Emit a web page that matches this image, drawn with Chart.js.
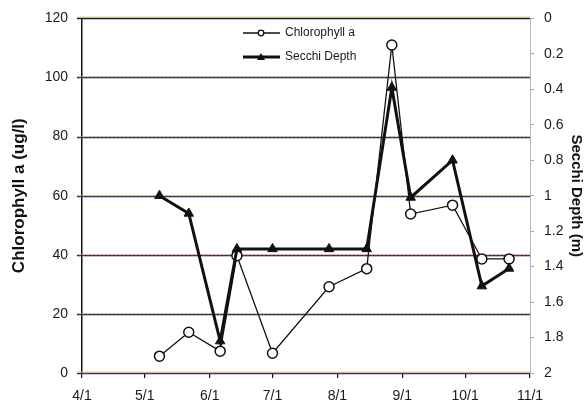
<!DOCTYPE html>
<html><head><meta charset="utf-8">
<script src="https://cdn.jsdelivr.net/npm/chart.js@4"></script>
<style>html,body{margin:0;padding:0;background:#fff}#wrap{width:585px;height:401px}</style>
</head><body><div id="wrap"><canvas id="c" width="585" height="401"></canvas></div>
<script>
// ---- data ----
const sampleDates = ['5/8','5/22','6/6','6/14','7/1','7/28','8/15','8/27','9/5','9/25','10/9','10/22'];
const chlorophyll = [5.7, 13.8, 7.4, 39.7, 6.7, 29.2, 35.3, 111, 53.8, 56.8, 38.6, 38.6];
const secchiDepth = [1.0, 1.10, 1.82, 1.30, 1.30, 1.30, 1.30, 0.39, 1.01, 0.80, 1.51, 1.41];
const monthTicks = ['4/1','5/1','6/1','7/1','8/1','9/1','10/1','11/1'];
const chlTicks = [0, 20, 40, 60, 80, 100, 120];
const secchiTicks = [0, 0.2, 0.4, 0.6, 0.8, 1, 1.2, 1.4, 1.6, 1.8, 2];
const seriesNames = ['Chlorophyll a', 'Secchi Depth'];
const axisTitles = ['Chlorophyll a (ug/l)', 'Secchi Depth (m)'];

function dayOffset(md){
  const [m,d] = md.split('/').map(Number);
  return Math.round((new Date(2000,m-1,d) - new Date(2000,3,1)) / 864e5);
}
const FONT = "'Liberation Sans', Arial, sans-serif";

const gridPlugin = {
  id: 'scanGrid',
  beforeDatasetsDraw(chart){
    const {ctx, chartArea:a, scales:{y}} = chart;
    ctx.save();
    const line = (py, x0, x1) => { ctx.beginPath(); ctx.moveTo(x0, py); ctx.lineTo(x1, py); ctx.stroke(); };
    chlTicks.forEach(v => {
      const py = Math.round(y.getPixelForValue(v)) + 0.5;
      const x0 = a.left - 5, x1 = a.right;
      if (v === chlTicks[0] || v === chlTicks[chlTicks.length-1]) {
        ctx.setLineDash([]);
        ctx.globalAlpha = 0.8; ctx.lineWidth = 1; ctx.strokeStyle = '#e8dc50'; line(py - 1.5, x0, x1);
        ctx.globalAlpha = 1; ctx.lineWidth = 1.6;
        ctx.strokeStyle = v === 0 ? '#5a2468' : '#1a1a48'; line(py, x0, x1);
      } else {
        ctx.setLineDash([]);
        ctx.globalAlpha = 0.5; ctx.lineWidth = 1; ctx.strokeStyle = '#e8dc50'; line(py - 1, x0, x1);
        ctx.globalAlpha = 0.3; ctx.strokeStyle = '#40c8e0'; line(py + 1, x0, x1);
        ctx.globalAlpha = 1; ctx.lineWidth = 1.4;
        ctx.setLineDash([2,2]); ctx.lineDashOffset = 0; ctx.strokeStyle = '#1e2878'; line(py, x0, x1);
        ctx.lineDashOffset = 2; ctx.strokeStyle = '#8a2a44'; line(py, x0, x1);
      }
    });
    ctx.restore();
  }
};

const legendPlugin = {
  id: 'lineLegend',
  afterDraw(chart){
    const ctx = chart.ctx;
    ctx.save();
    const x0 = 243, x1 = 280, xm = 261, ys = [33, 57];
    ctx.strokeStyle = '#111'; ctx.fillStyle = '#111';
    ctx.lineWidth = 1.3; ctx.beginPath(); ctx.moveTo(x0, ys[0]); ctx.lineTo(x1, ys[0]); ctx.stroke();
    ctx.fillStyle = '#fff'; ctx.beginPath(); ctx.arc(xm, ys[0], 2.8, 0, Math.PI*2); ctx.fill(); ctx.stroke();
    ctx.lineWidth = 3; ctx.beginPath(); ctx.moveTo(x0, ys[1]); ctx.lineTo(x1, ys[1]); ctx.stroke();
    ctx.fillStyle = '#111'; ctx.beginPath(); ctx.moveTo(xm, ys[1]-4); ctx.lineTo(xm+4, ys[1]+3); ctx.lineTo(xm-4, ys[1]+3); ctx.closePath(); ctx.fill();
    ctx.font = '12px ' + FONT; ctx.fillStyle = '#1a1a1a'; ctx.textBaseline = 'middle'; ctx.textAlign = 'left';
    ctx.fillText(seriesNames[0], 285, ys[0]);
    ctx.fillText(seriesNames[1], 285, ys[1]);
    ctx.restore();
  }
};

new Chart(document.getElementById('c'), {
  type: 'line',
  data: {
    datasets: [
      {
        label: seriesNames[0],
        data: sampleDates.map((d,i) => ({x: dayOffset(d), y: chlorophyll[i]})),
        yAxisID: 'y',
        borderColor: '#111', borderWidth: 1.3,
        pointStyle: 'circle', pointRadius: 5, pointBorderWidth: 1.5,
        pointBackgroundColor: '#fff', pointBorderColor: '#111',
        tension: 0, order: 2
      },
      {
        label: seriesNames[1],
        data: sampleDates.map((d,i) => ({x: dayOffset(d), y: secchiDepth[i]})),
        yAxisID: 'y1',
        borderColor: '#111', borderWidth: 3,
        pointStyle: 'triangle', pointRadius: 5.5, pointBorderWidth: 1,
        pointBackgroundColor: '#111', pointBorderColor: '#111',
        tension: 0, order: 1
      }
    ]
  },
  options: {
    responsive: false, animation: false, devicePixelRatio: 1,
    layout: { padding: { top: 16, left: 0, right: 0, bottom: 0 } },
    plugins: { legend: { display: false }, tooltip: { enabled: false } },
    scales: {
      x: {
        type: 'linear',
        min: dayOffset(monthTicks[0]), max: dayOffset(monthTicks[monthTicks.length-1]),
        afterBuildTicks: s => { s.ticks = monthTicks.map(t => ({value: dayOffset(t)})); },
        afterFit: s => { s.height = 28; },
        ticks: {
          autoSkip: false, maxRotation: 0, padding: 10,
          color: '#1a1a1a', font: { family: FONT, size: 14 },
          callback: v => { const i = monthTicks.findIndex(t => dayOffset(t) === v); return i >= 0 ? monthTicks[i] : ''; }
        },
        grid: { drawOnChartArea: false, drawTicks: true, tickLength: 5, color: '#111', lineWidth: 1.2 },
        border: { display: false }
      },
      y: {
        position: 'left', min: 0, max: 120,
        afterBuildTicks: s => { s.ticks = chlTicks.map(v => ({value: v})); },
        afterFit: s => { s.width = 82; },
        ticks: { padding: 9, color: '#1a1a1a', font: { family: FONT, size: 14 } },
        grid: { drawOnChartArea: false, drawTicks: true, tickLength: 5, color: 'rgba(0,0,0,0)' },
        border: { display: true, color: '#111', width: 1.5 },
        title: { display: true, text: axisTitles[0], color: '#111', font: { family: FONT, size: 17, weight: 'bold' }, padding: { top: 9 } }
      },
      y1: {
        position: 'right', min: 0, max: 2, reverse: true,
        afterBuildTicks: s => { s.ticks = secchiTicks.map(v => ({value: v})); },
        afterFit: s => { s.width = 55; },
        ticks: { padding: 10, color: '#1a1a1a', font: { family: FONT, size: 14 }, callback: v => String(+v.toFixed(1)) },
        grid: { drawOnChartArea: false, drawTicks: true, tickLength: 4, color: '#a8a8c4' },
        border: { display: true, color: '#b4b4d0', width: 1 },
        title: { display: true, text: axisTitles[1], color: '#111', font: { family: FONT, size: 15, weight: 'bold' }, padding: { top: 0 } }
      }
    }
  },
  plugins: [gridPlugin, legendPlugin]
});
</script></body></html>
